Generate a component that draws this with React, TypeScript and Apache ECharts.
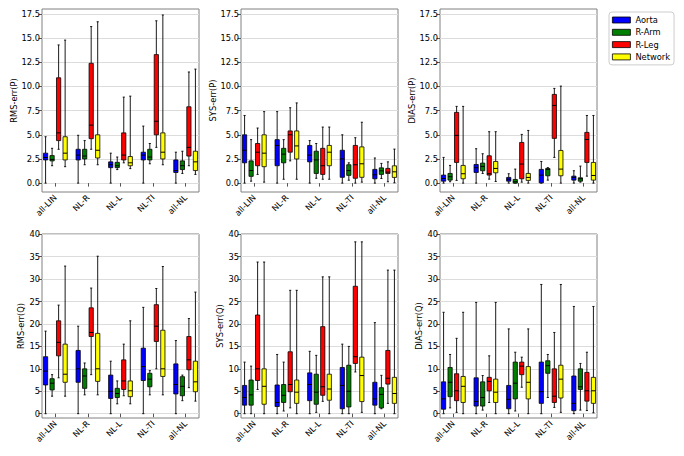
import React, { useEffect, useRef } from "react";
import * as echarts from "echarts";

const categories = ["all-LIN", "NL-R", "NL-L", "NL-TI", "all-NL"];
const seriesNames = ["Aorta", "R-Arm", "R-Leg", "Network"];
const seriesColors = ["#0000ff", "#008000", "#ff0000", "#ffff00"];
const topTicks = [0, 2.5, 5, 7.5, 10, 12.5, 15, 17.5];
const bottomTicks = [0, 5, 10, 15, 20, 25, 30, 35, 40];

// each entry: [min, q1, median, q3, max] for one category
const rmsPAorta = [[0, 2.4, 2.65, 3.1, 4.8], [0, 2.4, 2.9, 3.5, 4.95], [0, 1.6, 1.9, 2.2, 3.1], [0, 2.4, 2.9, 3.2, 5.9], [0, 1.1, 1.3, 2.4, 3.2]];
const rmsPRArm = [[1.8, 2.3, 2.45, 2.85, 3.6], [1.9, 2.5, 2.8, 3.5, 4.4], [1.4, 1.6, 1.8, 2.15, 2.7], [2.0, 2.4, 2.7, 3.5, 4.1], [1.0, 1.4, 1.8, 2.3, 3.3]];
const rmsPRLeg = [[3.5, 4.4, 5.2, 10.9, 14.3], [3.5, 4.6, 6.0, 12.4, 16.2], [2.1, 2.4, 2.9, 5.2, 8.9], [3.7, 5.0, 6.4, 13.3, 16.8], [1.8, 2.8, 3.7, 7.9, 11.5]];
const rmsPNetwork = [[1.7, 2.4, 3.1, 4.8, 14.8], [1.9, 2.6, 3.4, 5.0, 16.7], [1.5, 1.8, 2.1, 2.75, 9.0], [1.9, 2.5, 3.2, 5.2, 17.4], [0.9, 1.3, 2.2, 3.3, 11.8]];

const sysPAorta = [[0, 2.1, 3.4, 5.0, 7.0], [0, 1.8, 3.9, 4.5, 7.4], [0, 2.2, 2.9, 3.9, 4.4], [0, 0.6, 2.5, 3.4, 5.0], [0, 0.45, 0.86, 1.42, 2.6]];
const sysPRArm = [[0.2, 0.7, 1.3, 2.3, 4.5], [0.4, 2.1, 3.0, 3.6, 4.5], [0.5, 1.0, 2.4, 3.3, 4.1], [0.3, 0.8, 1.3, 1.9, 2.1], [0.48, 0.9, 1.27, 1.58, 2.04]];
const sysPRLeg = [[0.9, 1.8, 3.2, 4.1, 5.7], [2.3, 3.2, 5.0, 5.4, 7.8], [0.4, 0.9, 1.8, 3.6, 5.8], [0, 0.5, 1.9, 3.9, 4.7], [0.14, 1.0, 1.14, 1.52, 2.2]];
const sysPNetwork = [[0.1, 1.7, 3.1, 5.0, 7.4], [0.4, 2.5, 3.85, 5.4, 8.3], [0.4, 1.8, 3.2, 3.9, 5.8], [0.1, 0.6, 2.0, 3.75, 6.3], [0.03, 0.59, 1.17, 1.79, 3.52]];

const diasPAorta = [[0, 0.2, 0.48, 0.83, 2.66], [0, 1.1, 1.59, 1.93, 3.56], [0, 0.2, 0.41, 0.59, 0.97], [0, 0.03, 0.83, 1.42, 2.24], [0, 0.31, 0.59, 0.72, 1.28]];
const diasPRArm = [[0.14, 0.31, 0.66, 1.0, 1.83], [1.0, 1.28, 1.73, 2.07, 3.04], [0, 0, 0.14, 0.38, 1.45], [0.31, 0.76, 1.42, 1.52, 1.6], [0.1, 0.2, 0.45, 0.55, 1.76]];
const diasPRLeg = [[0.28, 2.14, 4.94, 7.32, 7.94], [0.41, 0.83, 0.97, 2.83, 5.32], [0.1, 0.45, 1.97, 4.21, 5.04], [2.66, 4.63, 8.04, 9.18, 9.8], [0.72, 2.14, 4.52, 5.25, 7.0]];
const diasPNetwork = [[0, 0.45, 0.97, 1.83, 7.94], [0.17, 1.07, 1.52, 2.24, 5.32], [0, 0.28, 0.59, 1.0, 5.45], [0, 0.76, 1.45, 3.38, 10.04], [0, 0.31, 0.79, 2.14, 7.0]];

const rmsQAorta = [[0, 6.4, 9.5, 12.7, 18.4], [0, 7.0, 10.0, 14.1, 19.5], [0, 3.4, 5.0, 8.6, 11.7], [0, 7.4, 10.5, 14.6, 23.7], [0, 4.4, 6.5, 11.1, 16.3]];
const rmsQRArm = [[3.9, 5.3, 6.8, 7.8, 8.7], [4.2, 5.65, 8.4, 10.0, 11.3], [2.2, 3.6, 4.5, 5.65, 7.3], [4.2, 6.0, 7.7, 9.0, 9.6], [2.9, 4.0, 6.1, 8.25, 8.6]];
const rmsQRLeg = [[8.0, 12.9, 15.9, 20.7, 24.2], [8.7, 17.2, 18.1, 23.6, 28.0], [4.0, 5.4, 7.3, 12.0, 15.5], [10.0, 16.1, 19.5, 24.3, 27.9], [5.8, 9.8, 12.0, 17.2, 21.2]];
const rmsQNetwork = [[3.9, 7.0, 8.8, 15.5, 32.9], [4.2, 7.2, 10.0, 17.9, 35.1], [2.2, 3.8, 5.1, 7.3, 20.7], [4.2, 8.3, 10.0, 18.6, 32.8], [2.8, 4.9, 7.1, 11.7, 27.1]];

const sysQAorta = [[0, 1.9, 3.6, 6.3, 11.5], [0, 1.6, 2.5, 6.4, 13.2], [0, 2.9, 6.5, 9.1, 13.9], [0, 1.1, 6.3, 10.3, 15.5], [0, 1.9, 3.3, 7.0, 20.3]];
const sysQRArm = [[0, 1.9, 4.2, 7.5, 10.6], [0.6, 2.5, 4.1, 6.5, 11.5], [0.3, 2.1, 4.8, 8.8, 13.0], [0, 1.5, 5.0, 10.8, 15.0], [1.1, 1.3, 4.3, 5.8, 8.55]];
const sysQRLeg = [[5.4, 7.4, 10.0, 22.0, 33.8], [1.3, 4.9, 6.5, 13.8, 27.5], [2.75, 4.1, 6.0, 19.4, 30.5], [9.3, 11.2, 12.7, 28.4, 38.3], [2.3, 6.6, 7.9, 14.1, 32.0]];
const sysQNetwork = [[0, 2.1, 6.1, 10.0, 33.8], [0, 2.3, 4.8, 7.5, 27.5], [0, 3.0, 5.5, 8.8, 30.5], [0.3, 2.7, 8.5, 12.6, 38.3], [0, 2.3, 4.5, 8.1, 32.0]];

const diasQAorta = [[0, 1.0, 3.3, 7.1, 22.6], [0, 1.7, 2.7, 8.0, 24.8], [0, 1.1, 3.2, 6.3, 18.9], [0, 2.3, 4.9, 11.5, 28.8], [0, 0.67, 2.3, 8.4, 23.9]];
const diasQRArm = [[1.3, 3.8, 7.0, 10.3, 13.2], [0.8, 1.7, 3.6, 7.1, 8.5], [0.6, 3.3, 6.8, 11.5, 13.7], [3.6, 9.0, 10.7, 11.8, 13.2], [0.8, 5.4, 6.0, 10.0, 11.2]];
const diasQRLeg = [[0.3, 2.9, 5.1, 8.9, 16.8], [2.5, 5.1, 7.2, 8.1, 12.9], [5.9, 8.7, 10.6, 11.5, 12.6], [1.4, 2.5, 3.9, 10.0, 18.1], [0.7, 2.8, 5.1, 9.2, 13.7]];
const diasQNetwork = [[0, 2.5, 6.1, 8.3, 22.6], [0, 2.5, 4.8, 7.7, 24.8], [0, 3.3, 7.0, 10.5, 18.9], [0.3, 3.5, 7.7, 10.8, 28.8], [0.2, 2.3, 5.1, 8.1, 23.9]];

const panels = [
  { title: "RMS-err(P)", row: 0, col: 0, data: [rmsPAorta, rmsPRArm, rmsPRLeg, rmsPNetwork] },
  { title: "SYS-err(P)", row: 0, col: 1, data: [sysPAorta, sysPRArm, sysPRLeg, sysPNetwork] },
  { title: "DIAS-err(P)", row: 0, col: 2, data: [diasPAorta, diasPRArm, diasPRLeg, diasPNetwork] },
  { title: "RMS-err(Q)", row: 1, col: 0, data: [rmsQAorta, rmsQRArm, rmsQRLeg, rmsQNetwork] },
  { title: "SYS-err(Q)", row: 1, col: 1, data: [sysQAorta, sysQRArm, sysQRLeg, sysQNetwork] },
  { title: "DIAS-err(Q)", row: 1, col: 2, data: [diasQAorta, diasQRArm, diasQRLeg, diasQNetwork] },
];

const FONT = "DejaVu Sans";
const FS = 8.3;
const BOX_W = 0.13;
const STEP = 0.2;

export default function App() {
  const ref = useRef<HTMLDivElement>(null);
  useEffect(() => {
    document.body.style.margin = "0";
    const chart = echarts.init(ref.current!, null, { renderer: "svg" });
    const lefts = [42, 241, 440];
    const tops = [9, 234];
    const heights = [183, 184];
    const grids: any[] = [];
    const xAxes: any[] = [];
    const yAxes: any[] = [];
    const series: any[] = [];
    const catTicks = categories.map((_, i) => i + 1);
    panels.forEach((p, gi) => {
      const top = p.row === 0;
      const ticks = top ? topTicks : bottomTicks;
      grids.push({
        left: lefts[p.col], top: tops[p.row], width: 157, height: heights[p.row],
        show: true, borderColor: "#808080", borderWidth: 1, backgroundColor: "transparent",
      });
      xAxes.push({
        type: "value", gridIndex: gi, min: 0.59, max: 5.41,
        axisLine: { show: false },
        splitLine: { show: false },
        axisTick: { show: true, customValues: catTicks, length: 3.5, lineStyle: { color: "#555" } },
        axisLabel: {
          customValues: catTicks, rotate: 45, margin: 4, fontSize: FS, fontFamily: FONT, color: "#000",
          formatter: (v: number) => categories[Math.round(v) - 1] ?? "",
        },
      });
      yAxes.push({
        type: "value", gridIndex: gi,
        min: top ? -0.92 : -0.96, max: top ? 18.02 : 40.05,
        name: p.title, nameLocation: "middle", nameGap: top ? 24 : 17,
        nameTextStyle: { fontSize: FS, fontFamily: FONT, color: "#000" },
        axisLine: { show: false },
        axisTick: { show: true, customValues: ticks, length: 3.5, lineStyle: { color: "#555" } },
        axisLabel: {
          customValues: ticks, margin: 2, fontSize: FS, fontFamily: FONT, color: "#000",
          formatter: (v: number) => (top ? v.toFixed(1) : String(v)),
        },
        splitLine: { show: true, lineStyle: { color: "#dcdcdc", width: 1 } },
      });
      p.data.forEach((arr, k) => {
        const color = seriesColors[k];
        const offset = (k - 1.5) * STEP;
        series.push({
          type: "custom", name: seriesNames[k], xAxisIndex: gi, yAxisIndex: gi,
          itemStyle: { color },
          encode: { x: 0, y: [1, 2, 3, 4, 5] },
          data: arr.map((d, ci) => [ci + 1, ...d]),
          renderItem: (params: any, api: any) => {
            const x = api.value(0) + offset;
            const pMin = api.coord([x, api.value(1)]);
            const pQ1 = api.coord([x, api.value(2)]);
            const pMed = api.coord([x, api.value(3)]);
            const pQ3 = api.coord([x, api.value(4)]);
            const pMax = api.coord([x, api.value(5)]);
            const w = api.size([BOX_W, 0])[0];
            const cx = pMin[0];
            const cap = w / 4;
            const ls = { stroke: "#000", lineWidth: 0.9 };
            return {
              type: "group",
              children: [
                { type: "line", shape: { x1: cx, y1: pMin[1], x2: cx, y2: pQ1[1] }, style: ls },
                { type: "line", shape: { x1: cx, y1: pQ3[1], x2: cx, y2: pMax[1] }, style: ls },
                { type: "line", shape: { x1: cx - cap, y1: pMin[1], x2: cx + cap, y2: pMin[1] }, style: ls },
                { type: "line", shape: { x1: cx - cap, y1: pMax[1], x2: cx + cap, y2: pMax[1] }, style: ls },
                {
                  type: "rect",
                  shape: { x: cx - w / 2, y: pQ3[1], width: w, height: pQ1[1] - pQ3[1] },
                  style: { fill: color, stroke: "#000", lineWidth: 0.8 },
                },
                { type: "line", shape: { x1: cx - w / 2, y1: pMed[1], x2: cx + w / 2, y2: pMed[1] }, style: { stroke: "#000", lineWidth: 1 } },
              ],
            };
          },
        });
      });
    });
    chart.setOption({
      animation: false,
      textStyle: { fontFamily: FONT },
      grid: grids,
      xAxis: xAxes,
      yAxis: yAxes,
      legend: {
        left: 609, top: 12, orient: "vertical",
        data: seriesNames.map((n, k) => ({ name: n, itemStyle: { color: seriesColors[k], borderColor: "#000", borderWidth: 0.8 } })),
        icon: "rect", itemWidth: 18, itemHeight: 6, itemGap: 2.3,
        borderColor: "#cccccc", borderWidth: 1, borderRadius: 3, padding: [3, 4, 3, 3],
        textStyle: { fontSize: FS, fontFamily: FONT, color: "#000", lineHeight: 10 },
        selectedMode: false,
      },
      series,
    });
    return () => chart.dispose();
  }, []);
  return <div ref={ref} style={{ width: 684, height: 456 }} />;
}
